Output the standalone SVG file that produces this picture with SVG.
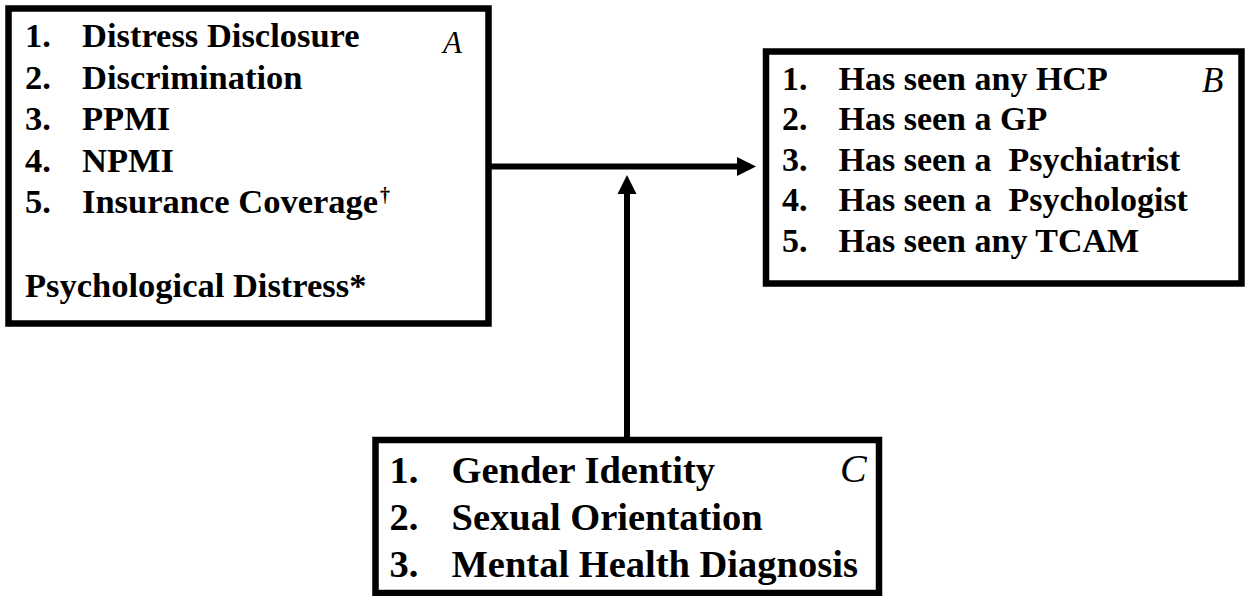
<svg xmlns="http://www.w3.org/2000/svg" width="1245" height="596" viewBox="0 0 1245 596">
<defs>
<style>
.box{fill:#fff;stroke:#000;stroke-width:6.5}
.t{font-family:"Liberation Serif","Times New Roman",serif;font-weight:bold;fill:#000;white-space:pre}
.lab{font-family:"Liberation Serif","Times New Roman",serif;font-style:italic;fill:#000}
.a{font-size:34.5px}
.b{font-size:34px}
.c{font-size:38.5px}
.conn{stroke:#000;stroke-width:6;fill:none}
</style>
<marker id="arr" markerUnits="userSpaceOnUse" markerWidth="19" markerHeight="19" refX="0" refY="9.5" orient="auto" overflow="visible">
<path d="M0,0 L19,9.5 L0,19 Z" fill="#000"/>
</marker>
</defs>
<rect width="1245" height="596" fill="#fff"/>
<g id="connectors">
<path class="conn" d="M491,166.5 H737" marker-end="url(#arr)"/>
<path class="conn" d="M627,437 V194" marker-end="url(#arr)"/>
</g>
<g id="nodeA">
<rect class="box" x="8.5" y="8.5" width="480" height="315"/>
<text class="t a" x="25" y="47">1.</text><text class="t a" x="82" y="47">Distress Disclosure</text>
<text class="t a" x="25" y="88.5">2.</text><text class="t a" x="82" y="88.5">Discrimination</text>
<text class="t a" x="25" y="130">3.</text><text class="t a" x="82" y="130">PPMI</text>
<text class="t a" x="25" y="171.5">4.</text><text class="t a" x="82" y="171.5">NPMI</text>
<text class="t a" x="25" y="213">5.</text><text class="t a" x="82" y="213">Insurance Coverage<tspan font-size="20" dx="2" dy="-11">†</tspan></text>
<text class="t a" x="25" y="297">Psychological Distress*</text>
<text class="lab" x="443" y="53" font-size="31">A</text>
</g>
<g id="nodeB">
<rect class="box" x="766" y="51.5" width="475.5" height="232"/>
<text class="t b" x="782" y="89.5">1.</text><text class="t b" x="838.5" y="89.5">Has seen any HCP</text>
<text class="t b" x="782" y="130">2.</text><text class="t b" x="838.5" y="130">Has seen a GP</text>
<text class="t b" x="782" y="170.5">3.</text><text class="t b" x="838.5" y="170.5">Has seen a  Psychiatrist</text>
<text class="t b" x="782" y="211">4.</text><text class="t b" x="838.5" y="211">Has seen a  Psychologist</text>
<text class="t b" x="782" y="251.5">5.</text><text class="t b" x="838.5" y="251.5">Has seen any TCAM</text>
<text class="lab" x="1202" y="91.5" font-size="35">B</text>
</g>
<g id="nodeC">
<rect class="box" x="375.5" y="440" width="503.5" height="153"/>
<text class="t c" x="389.5" y="483">1.</text><text class="t c" x="451.5" y="483">Gender Identity</text>
<text class="t c" x="389.5" y="530">2.</text><text class="t c" x="451.5" y="530">Sexual Orientation</text>
<text class="t c" x="389.5" y="577">3.</text><text class="t c" x="451.5" y="577">Mental Health Diagnosis</text>
<text class="lab" x="840" y="482" font-size="40">C</text>
</g>
</svg>
